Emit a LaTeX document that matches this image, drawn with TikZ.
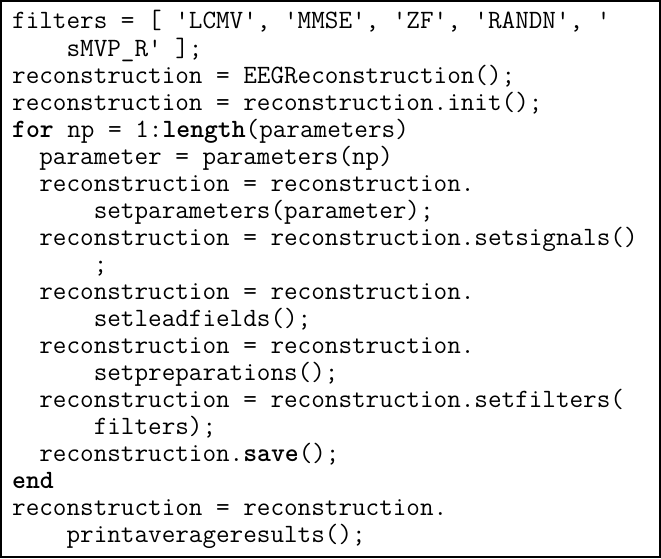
\documentclass[tikz,border=0pt]{standalone}
\usepackage{fontspec}
\begin{document}
\begin{tikzpicture}[x=1pt,y=1pt,
  codeline/.style={anchor=base west,inner sep=0pt,font=\fontsize{26.4}{26.4}\selectfont\ttfamily}]
\useasboundingbox (0,0) rectangle (661,558);
\draw[line width=2pt] (1,1) rectangle (660,557);
\def\L#1#2#3{\node[codeline] (l#1) at (12,{558-29-#1*27.05}) {\phantom{#2}#3};}
\L{0}{}{filters = [ 'LCMV', 'MMSE', 'ZF', 'RANDN', '}
\L{1}{xxxx}{sMVP\_R' ];}
\L{2}{}{reconstruction = EEGReconstruction();}
\L{3}{}{reconstruction = reconstruction.init();}
\L{4}{}{\textbf{for} np = 1:\textbf{length}(parameters)}
\L{5}{xx}{parameter = parameters(np)}
\L{6}{xx}{reconstruction = reconstruction.}
\L{7}{xxxxxx}{setparameters(parameter);}
\L{8}{xx}{reconstruction = reconstruction.setsignals()}
\L{9}{xxxxxx}{;}
\L{10}{xx}{reconstruction = reconstruction.}
\L{11}{xxxxxx}{setleadfields();}
\L{12}{xx}{reconstruction = reconstruction.}
\L{13}{xxxxxx}{setpreparations();}
\L{14}{xx}{reconstruction = reconstruction.setfilters(}
\L{15}{xxxxxx}{filters);}
\L{16}{xx}{reconstruction.\textbf{save}();}
\L{17}{}{\textbf{end}}
\L{18}{}{reconstruction = reconstruction.}
\L{19}{xxxx}{printaverageresults();}
\end{tikzpicture}
\end{document}
